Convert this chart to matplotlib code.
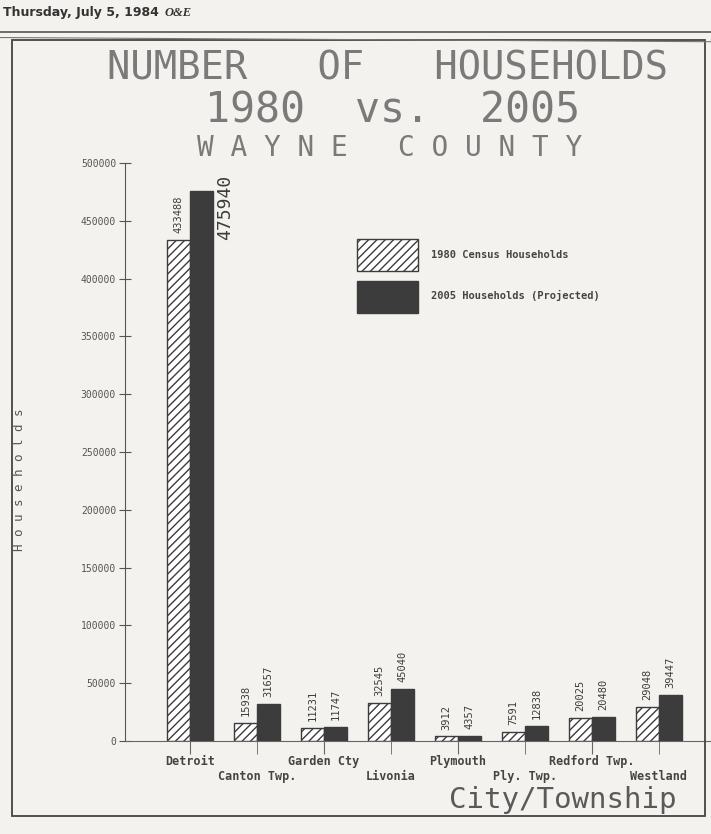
import numpy as np
import matplotlib
matplotlib.use('Agg')
import matplotlib.pyplot as plt
from matplotlib.patches import Rectangle
from matplotlib.lines import Line2D

###################################################
cities = ['Detroit', 'Canton Twp.', 'Garden Cty', 'Livonia',
          'Plymouth', 'Ply. Twp.', 'Redford Twp.', 'Westland']
hh_1980 = [433488, 15938, 11231, 32545, 3912, 7591, 20025, 29048]
hh_2005 = [475940, 31657, 11747, 45040, 4357, 12838, 20480, 39447]
yticks = [0, 50000, 100000, 150000, 200000, 250000, 300000, 350000, 400000, 450000, 500000]
###################################################

ink = '#3c3c3c'
paper = '#f3f2ee'
mono = 'DejaVu Sans Mono'
plt.rcParams['hatch.linewidth'] = 1.0
plt.rcParams['hatch.color'] = ink

fig = plt.figure(figsize=(7.11, 8.34), dpi=100, facecolor=paper)

# newspaper header + frame
fig.text(0.004, 0.985, 'Thursday, July 5, 1984', fontsize=9, fontweight='bold',
         color='#333333', family='Liberation Sans Narrow', va='center')
fig.text(0.232, 0.985, 'O&E', fontsize=9, fontstyle='italic', fontweight='bold',
         color='#333333', family='Liberation Serif', va='center')
fig.add_artist(Line2D([0, 1], [0.962, 0.962], color='#555555', lw=1.2))
fig.add_artist(Line2D([0, 1], [0.955, 0.950], color='#777777', lw=0.8))
fig.add_artist(Rectangle((0.017, 0.022), 0.975, 0.930, fill=False,
                         edgecolor='#444444', lw=1.3))

# title
fig.text(0.545, 0.918, 'NUMBER   OF   HOUSEHOLDS', fontsize=28, family=mono,
         color='#7a7a7a', ha='center', va='center')
fig.text(0.552, 0.868, '1980  vs.  2005', fontsize=30, family=mono,
         color='#7a7a7a', ha='center', va='center')
fig.text(0.548, 0.822, 'W A Y N E   C O U N T Y', fontsize=20, family=mono,
         color='#7a7a7a', ha='center', va='center')

ax = fig.add_axes([0.176, 0.1115, 0.824, 0.6931])
ax.set_facecolor('none')

x = np.arange(len(cities))
w = 0.34
b1 = ax.bar(x - w / 2, hh_1980, w, facecolor='white', edgecolor=ink,
            hatch='////', lw=1.0, label='1980 Census Households')
b2 = ax.bar(x + w / 2, hh_2005, w, facecolor=ink, edgecolor=ink,
            lw=1.0, label='2005 Households (Projected)')

for i in range(len(cities)):
    ax.text(x[i] - w / 2, hh_1980[i] + 6000, str(hh_1980[i]), rotation=90,
            ha='center', va='bottom', fontsize=7.5, family=mono, color=ink)
    if i == 0:
        ax.text(x[i] + w + 0.05, hh_2005[i] - 43000, str(hh_2005[i]), rotation=90,
                ha='left', va='bottom', fontsize=13, family=mono, color=ink)
    else:
        ax.text(x[i] + w / 2, hh_2005[i] + 6000, str(hh_2005[i]), rotation=90,
                ha='center', va='bottom', fontsize=7.5, family=mono, color=ink)

ax.set_xlim(-0.97, 7.78)
ax.set_ylim(0, 500000)
ax.set_yticks(yticks)
ax.set_yticklabels([str(v) for v in yticks], fontsize=7, family=mono, color='#555555')
ax.tick_params(axis='y', direction='inout', length=9, color='#555555', pad=2)

# staggered category labels: even ones on first row, odd ones on second row
lbl_font = dict(fontsize=8.5, family=mono, fontweight='bold', color='#444444')
ax.set_xticks(x[0::2])
ax.set_xticklabels(cities[0::2], **lbl_font)
ax.set_xticks(x[1::2], minor=True)
ax.set_xticklabels(cities[1::2], minor=True, **lbl_font)
ax.tick_params(axis='x', which='major', direction='out', length=9, color='#666666', pad=1)
ax.tick_params(axis='x', which='minor', direction='out', length=9, color='#666666', pad=12)

for s in ['top', 'right']:
    ax.spines[s].set_visible(False)
ax.spines['left'].set_color('#555555')
ax.spines['bottom'].set_color('#666666')

fig.text(0.028, 0.425, 'H o u s e h o l d s', rotation=90, fontsize=9, family=mono,
         color='#555555', ha='center', va='center')
fig.text(0.792, 0.041, 'City/Township', fontsize=21, family=mono,
         color='#5a5a5a', ha='center', va='center')

ax.legend(handles=[b1, b2], loc='upper left', bbox_to_anchor=(0.38, 0.885),
          frameon=False, handlelength=5.8, handleheight=4.4, labelspacing=0.9,
          handletextpad=1.3, prop={'family': mono, 'size': 7.5, 'weight': 'bold'},
          labelcolor='#444444')

fig.savefig('out.png', dpi=100, facecolor=paper)
